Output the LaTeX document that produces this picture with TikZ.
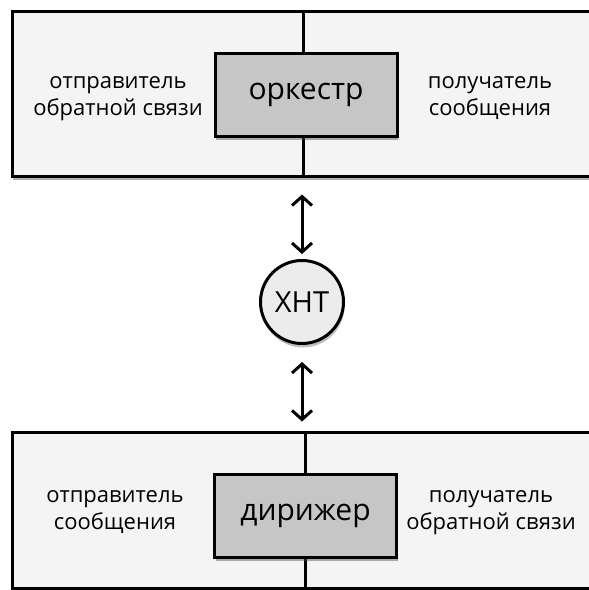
\documentclass[tikz,border=0pt]{standalone}
\usepackage{fontspec}
\setmainfont{Open Sans}
\usetikzlibrary{arrows.meta,shadows,calc}
\definecolor{outerfill}{HTML}{F4F4F4}
\definecolor{innerfill}{HTML}{C6C6C6}
\definecolor{circfill}{HTML}{ECECEC}
\tikzset{
  outerbox/.style={draw=black, line width=3pt, fill=outerfill, minimum width=598pt,
    inner sep=0pt, drop shadow={shadow xshift=1pt, shadow yshift=-4pt, opacity=0.45, fill=black!70}},
  innerbox/.style={draw=black, line width=3pt, fill=innerfill, minimum width=182pt, minimum height=83pt,
    inner sep=0pt, font=\fontsize{30}{34}\selectfont,
    drop shadow={shadow xshift=1pt, shadow yshift=-4pt, opacity=0.45, fill=black!70}},
  sidetext/.style={align=center, font=\fontsize{22}{27}\selectfont, inner sep=0pt, anchor=base},
  circnode/.style={circle, draw=black, line width=3pt, fill=circfill, minimum size=83pt, inner sep=0pt,
    font=\fontsize{29}{32}\selectfont,
    drop shadow={shadow xshift=1pt, shadow yshift=-4pt, opacity=0.35, fill=black!70}},
  divider/.style={line width=3pt},
  dbl/.style={line width=3pt, {Straight Barb[length=9pt,width=20pt,line width=3pt]}-{Straight Barb[length=9pt,width=20pt,line width=3pt]}},
}
\begin{document}
\begin{tikzpicture}[x=1pt,y=-1pt]
\useasboundingbox (0,0) rectangle (589,590);
\clip (0,0) rectangle (589,590);
\fill[white] (0,0) rectangle (589,590);
% top outer box
\node[outerbox, minimum height=165pt] (top) at (311,93.5) {};
\coordinate (tdivtop) at (303,11);
\coordinate (tdivbot) at (303,176);
\draw[divider] (tdivtop) -- (tdivbot);
\node[innerbox] (orch) at (306,94.5) {оркестр};
\node[sidetext] (tl) at (118,115) {отправитель\\обратной связи};
\node[sidetext] (tr) at (490,115) {получатель\\сообщения};
% bottom outer box
\node[outerbox, minimum height=156pt] (bot) at (311.5,510) {};
\coordinate (bdivtop) at (305,432);
\coordinate (bdivbot) at (305,588);
\draw[divider] (bdivtop) -- (bdivbot);
\node[innerbox] (cond) at (305.5,515.5) {дирижер};
\node[sidetext] (bl) at (115,529) {отправитель\\сообщения};
\node[sidetext] (br) at (491,529) {получатель\\обратной связи};
% circle
\node[circnode] (xnt) at (302,302) {ХНТ};
\draw[dbl, shorten <=17pt, shorten >=5pt] (xnt.north |- top.south) -- (xnt.north);
\draw[dbl, shorten <=17pt, shorten >=9pt] (xnt.south) -- (xnt.south |- bot.north);
\end{tikzpicture}
\end{document}
